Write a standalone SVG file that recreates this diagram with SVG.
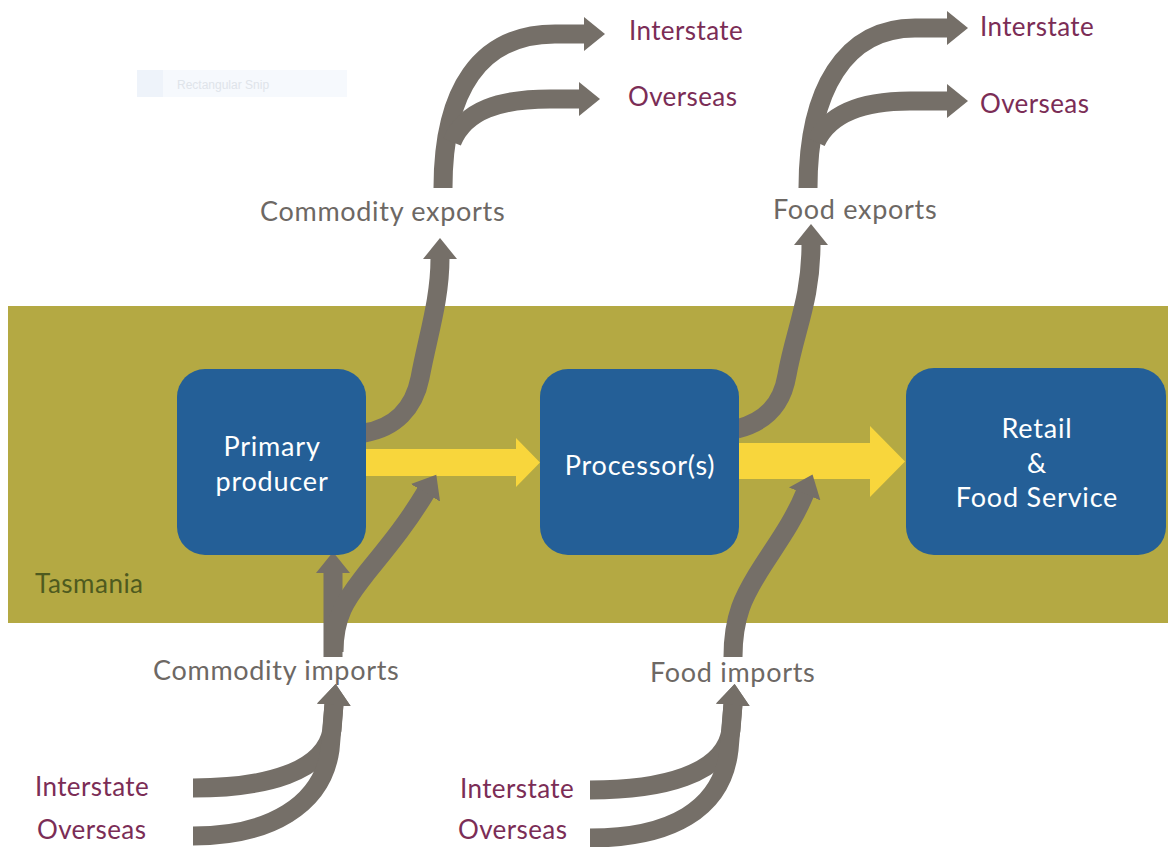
<svg xmlns="http://www.w3.org/2000/svg" width="1168" height="847" viewBox="0 0 1168 847">
<defs>
<style>
.band{fill:#b4a943}
.box{fill:#245f97}
.flow{fill:#f8d63c}
.conn{fill:none;stroke:#756f68;stroke-width:19;stroke-linecap:butt}
.lbl{font-family:Lato,"Open Sans","Liberation Sans",sans-serif;font-size:27px;letter-spacing:0.7px;fill:#6d6864}
.dest{font-family:Lato,"Open Sans","Liberation Sans",sans-serif;font-size:26px;letter-spacing:0.4px;fill:#7b2d56}
.node{font-family:Lato,"Open Sans","Liberation Sans",sans-serif;font-size:27px;letter-spacing:0.8px;fill:#ffffff;text-anchor:middle}
.region{font-family:Lato,"Open Sans","Liberation Sans",sans-serif;font-size:26px;letter-spacing:0.5px;fill:#4e5a1f}
.snip{font-family:"Liberation Sans",sans-serif;font-size:12px;fill:#dfe4ea}
</style>
<marker id="ah" markerUnits="userSpaceOnUse" markerWidth="22" markerHeight="34" refX="1" refY="17" orient="auto" viewBox="0 0 22 34">
<path d="M0,0 L21,17 L0,34 Z" fill="#756f68"/>
</marker>
</defs>
<rect width="1168" height="847" fill="#ffffff"/>

<g id="snip-artifact">
<rect x="137" y="70" width="210" height="27" fill="#f6f9fd"/>
<rect x="137" y="70" width="26" height="27" fill="#eef3fa"/>
<text class="snip" x="177" y="89">Rectangular Snip</text>
</g>

<g id="tasmania">
<rect class="band" x="8" y="306" width="1160" height="317"/>
<text class="region" x="35" y="593">Tasmania</text>
</g>

<g id="connectors">
<!-- yellow main flows -->
<polygon class="flow" points="366,449 516,449 516,438 540,462.5 516,487 516,476 366,476"/>
<polygon class="flow" points="738,443 870,443 870,426 905,461.5 870,497 870,479 738,479"/>
<!-- commodity exports -->
<path class="conn" d="M364,433 C395,428 414,408 420,378 C428,335 440,300 440,258" marker-end="url(#ah)"/>
<path class="conn" d="M443,188 C443,90 480,34 555,34 L585,34" marker-end="url(#ah)"/>
<path class="conn" d="M452,142 C465,110 500,99 550,99 L580,99" marker-end="url(#ah)"/>
<!-- food exports -->
<path class="conn" d="M737,429 C765,422 782,405 787,375 C795,330 811,300 811,244" marker-end="url(#ah)"/>
<path class="conn" d="M808,188 C808,90 845,28 915,28 L948,28" marker-end="url(#ah)"/>
<path class="conn" d="M816,142 C830,112 865,101 910,101 L948,101" marker-end="url(#ah)"/>
<!-- commodity imports -->
<path class="conn" d="M193,788 C265,788 325,772 332,730 L334,704" marker-end="url(#ah)"/>
<path class="conn" d="M193,836 C270,836 322,805 330,750 L334,704" marker-end="url(#ah)"/>
<path class="conn" d="M333,657 L333,572" marker-end="url(#ah)"/>
<path class="conn" d="M334,652 C334,612 350,595 365,575 C385,550 405,527 426,492" marker-end="url(#ah)"/>
<!-- food imports -->
<path class="conn" d="M590,790 C660,790 725,775 731,730 L733,704" marker-end="url(#ah)"/>
<path class="conn" d="M590,838 C670,838 722,810 729,750 L733,704" marker-end="url(#ah)"/>
<path class="conn" d="M733,657 C733,615 745,595 757,575 C772,550 792,525 805,493" marker-end="url(#ah)"/>
</g>

<g id="primary-producer">
<rect class="box" x="177" y="369" width="189" height="186" rx="28"/>
<text class="node" x="272" y="456">Primary</text>
<text class="node" x="272" y="491">producer</text>
</g>

<g id="processors">
<rect class="box" x="540" y="369" width="199" height="186" rx="28"/>
<text class="node" x="640" y="475">Processor(s)</text>
</g>

<g id="retail-food-service">
<rect class="box" x="906" y="368" width="260" height="187" rx="28"/>
<text class="node" x="1037" y="438">Retail</text>
<text class="node" x="1037" y="473">&amp;</text>
<text class="node" x="1037" y="507">Food Service</text>
</g>

<g id="labels">
<text class="lbl" x="260" y="221">Commodity exports</text>
<text class="lbl" x="773" y="219">Food exports</text>
<text class="lbl" x="153" y="680">Commodity imports</text>
<text class="lbl" x="650" y="682">Food imports</text>
<text class="dest" x="629" y="40">Interstate</text>
<text class="dest" x="628" y="106">Overseas</text>
<text class="dest" x="980" y="36">Interstate</text>
<text class="dest" x="980" y="113">Overseas</text>
<text class="dest" x="35" y="796">Interstate</text>
<text class="dest" x="37" y="839">Overseas</text>
<text class="dest" x="460" y="798">Interstate</text>
<text class="dest" x="458" y="839">Overseas</text>
</g>
</svg>
